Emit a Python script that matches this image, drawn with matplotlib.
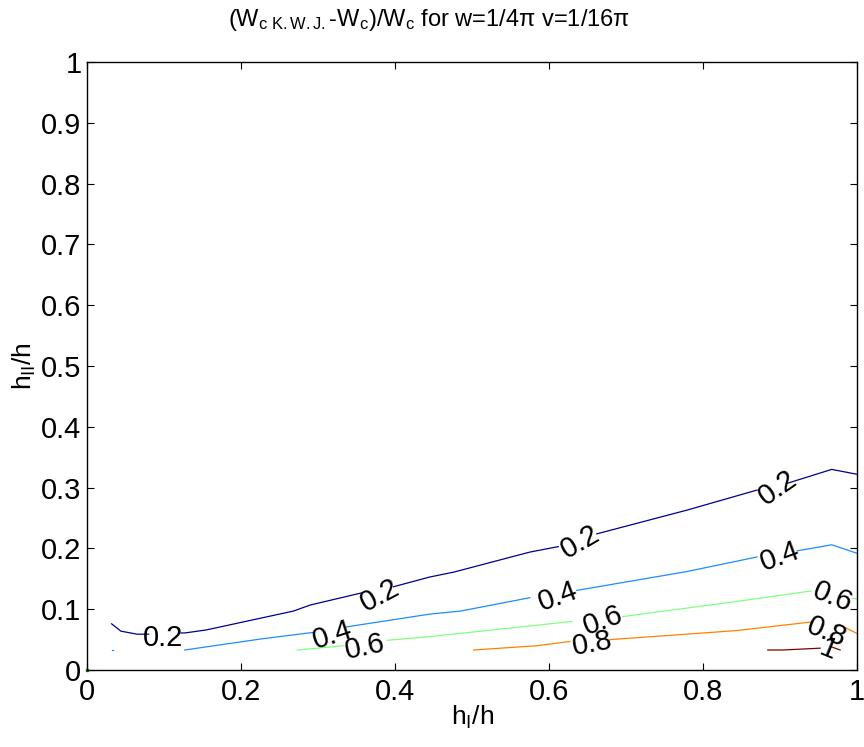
import matplotlib
matplotlib.use("Agg")
import matplotlib.pyplot as plt

plt.rcParams['font.family'] = ['Liberation Sans', 'DejaVu Sans']
plt.rcParams['mathtext.fontset'] = 'custom'
plt.rcParams['mathtext.rm'] = 'Liberation Sans'
plt.rcParams['mathtext.it'] = 'Liberation Sans'

# contour pieces (gaps are where the labels sit)
c02_x = [[0.032, 0.044, 0.065, 0.080],
         [0.122, 0.127, 0.155, 0.268, 0.290, 0.357],
         [0.398, 0.445, 0.476, 0.575, 0.612],
         [0.662, 0.779, 0.870],
         [0.909, 0.967, 1.0]]
c02_y = [[0.076, 0.064, 0.059, 0.059],
         [0.061, 0.061, 0.066, 0.097, 0.107, 0.127],
         [0.137, 0.153, 0.161, 0.194, 0.203],
         [0.224, 0.263, 0.296],
         [0.307, 0.330, 0.322]]

c04_x = [[0.032, 0.034],
         [0.127, 0.225, 0.294],
         [0.337, 0.445, 0.485, 0.575],
         [0.636, 0.779, 0.870],
         [0.922, 0.967, 1.0]]
c04_y = [[0.033, 0.033],
         [0.033, 0.051, 0.062],
         [0.071, 0.092, 0.097, 0.119],
         [0.131, 0.162, 0.186],
         [0.196, 0.206, 0.192]]

c06_x = [[0.273, 0.333],
         [0.390, 0.445, 0.549, 0.630],
         [0.696, 0.839, 0.940],
         [0.994, 1.0]]
c06_y = [[0.033, 0.040],
         [0.049, 0.055, 0.069, 0.080],
         [0.088, 0.112, 0.130],
         [0.118, 0.117]]

c08_x = [[0.502, 0.584, 0.627],
         [0.679, 0.844, 0.940],
         [0.978, 1.0]]
c08_y = [[0.033, 0.040, 0.047],
         [0.050, 0.065, 0.079],
         [0.074, 0.060]]

c10_x = [[0.884, 0.904, 0.952],
         [0.967, 0.978]]
c10_y = [[0.033, 0.033, 0.036],
         [0.038, 0.033]]

levels = [0.2, 0.4, 0.6, 0.8, 1.0]
colors = ['#00008f', '#1e8cff', '#80ff80', '#ff8000', '#800000']

# label positions and angles as they appear
lab_text = ['0.2', '0.2', '0.2', '0.2', '0.4', '0.4', '0.4',
            '0.6', '0.6', '0.6', '0.8', '0.8', '1']
lab_x = [0.099, 0.381, 0.640, 0.897, 0.319, 0.612, 0.900,
         0.361, 0.670, 0.968, 0.656, 0.961, 0.962]
lab_y = [0.053, 0.123, 0.211, 0.299, 0.058, 0.120, 0.186,
         0.038, 0.082, 0.120, 0.044, 0.063, 0.033]
lab_rot = [0, 28, 30, 35, 18, 20, 20, 12, 20, -22, 10, -22, -22]

fig = plt.figure(figsize=(8.64, 7.47), dpi=100)
ax = fig.add_axes([0.1007, 0.103, 0.8913, 0.814])

all_x = [c02_x, c04_x, c06_x, c08_x, c10_x]
all_y = [c02_y, c04_y, c06_y, c08_y, c10_y]
for xs, ys, col in zip(all_x, all_y, colors):
    for sx, sy in zip(xs, ys):
        ax.plot(sx, sy, color=col, linewidth=0.9)

ax.plot([0], [0], marker='s', markersize=2, color='#008000', clip_on=False)

for t, x, y, r in zip(lab_text, lab_x, lab_y, lab_rot):
    ax.text(x, y, t, fontsize=21, rotation=r, rotation_mode='anchor',
            ha='center', va='center')

ax.set_xlim(0, 1)
ax.set_ylim(0, 1)
ax.set_xticks([0, 0.2, 0.4, 0.6, 0.8, 1])
ax.set_xticklabels(['0', '0.2', '0.4', '0.6', '0.8', '1'])
ax.set_yticks([0, 0.1, 0.2, 0.3, 0.4, 0.5, 0.6, 0.7, 0.8, 0.9, 1])
ax.set_yticklabels(['0', '0.1', '0.2', '0.3', '0.4', '0.5', '0.6',
                    '0.7', '0.8', '0.9', '1'])
ax.tick_params(direction='in', top=True, right=True, length=5,
               labelsize=21)
ax.tick_params(axis='x', pad=6)
ax.tick_params(axis='y', pad=4)
for s in ax.spines.values():
    s.set_linewidth(1.0)

ax.set_xlabel(r'h$_\mathrm{I}$/h', fontsize=19, labelpad=-2)
ax.set_ylabel(r'h$_\mathrm{II}$/h', fontsize=19, labelpad=2)
ax.set_title(r'(W$_\mathrm{c\ K.W.J.}$-W$_\mathrm{c}$)/W$_\mathrm{c}$ for w=1/4$\pi$ v=1/16$\pi$',
             fontsize=17, pad=26, x=0.444)

fig.savefig('out.png', dpi=100)
